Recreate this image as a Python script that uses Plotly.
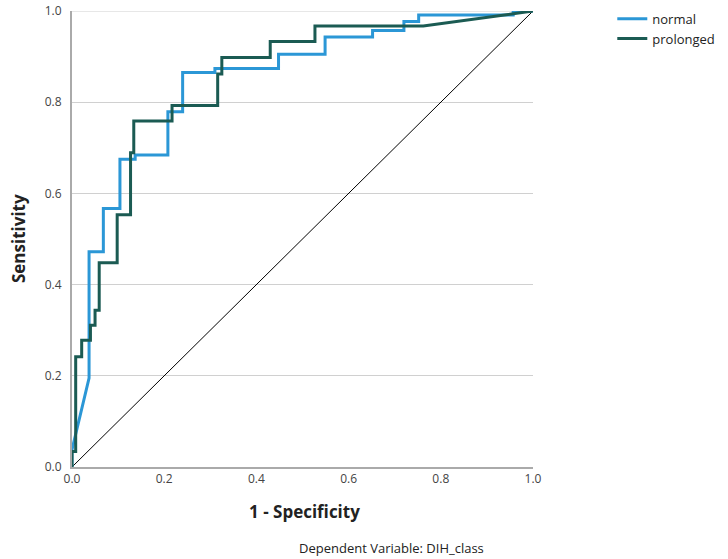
import plotly.graph_objects as go

# ROC curve points (1 - Specificity, Sensitivity)
normal_fpr = [0, 0, 0.037, 0.037, 0.068, 0.068, 0.104, 0.104, 0.137, 0.137, 0.208, 0.208,
              0.240, 0.240, 0.310, 0.310, 0.448, 0.448, 0.549, 0.549, 0.652, 0.652,
              0.720, 0.720, 0.752, 0.752, 0.957, 0.957, 1.0]
normal_tpr = [0, 0.038, 0.195, 0.472, 0.472, 0.567, 0.567, 0.675, 0.675, 0.684, 0.684, 0.779,
              0.779, 0.865, 0.865, 0.874, 0.874, 0.905, 0.905, 0.943, 0.943, 0.957,
              0.957, 0.977, 0.977, 0.991, 0.991, 1.0, 1.0]

prolonged_fpr = [0, 0, 0.008, 0.008, 0.021, 0.021, 0.040, 0.040, 0.050, 0.050, 0.059, 0.059,
                 0.098, 0.098, 0.127, 0.127, 0.134, 0.134, 0.217, 0.217, 0.316, 0.316,
                 0.325, 0.325, 0.430, 0.430, 0.527, 0.527, 0.762, 1.0]
prolonged_tpr = [0, 0.034, 0.034, 0.242, 0.242, 0.278, 0.278, 0.311, 0.311, 0.344, 0.344, 0.448,
                 0.448, 0.553, 0.553, 0.689, 0.689, 0.759, 0.759, 0.793, 0.793, 0.862,
                 0.862, 0.898, 0.898, 0.933, 0.933, 0.967, 0.967, 1.0]

ref_x = [0, 1]
ref_y = [0, 1]

tick_vals = [0.0, 0.2, 0.4, 0.6, 0.8, 1.0]
tick_text = ["0.0", "0.2", "0.4", "0.6", "0.8", "1.0"]

FONT = "Open Sans"

fig = go.Figure()
fig.add_trace(go.Scatter(x=ref_x, y=ref_y, mode="lines", showlegend=False,
                         line=dict(color="black", width=1), cliponaxis=False, hoverinfo="skip"))
fig.add_trace(go.Scatter(x=normal_fpr, y=normal_tpr, mode="lines", name="normal",
                         line=dict(color="#2b97d6", width=3), cliponaxis=False))
fig.add_trace(go.Scatter(x=prolonged_fpr, y=prolonged_tpr, mode="lines", name="prolonged",
                         line=dict(color="#1b5b53", width=3), cliponaxis=False))

fig.update_layout(
    width=728, height=559,
    margin=dict(l=72, r=195, t=11, b=92, autoexpand=False),
    plot_bgcolor="white", paper_bgcolor="white",
    font=dict(family=FONT, color="#333333"),
    legend=dict(x=1.172, y=1.016, xanchor="left", yanchor="top",
                font=dict(family=FONT, size=13, color="#222222"),
                tracegroupgap=0, itemwidth=30, bgcolor="rgba(0,0,0,0)"),
    xaxis=dict(range=[0, 1], tickvals=tick_vals, ticktext=tick_text, showgrid=False,
               zeroline=False, showline=True, linecolor="#aaaaaa", linewidth=2,
               ticks="", automargin=False, tickfont=dict(size=12, color="#444444")),
    yaxis=dict(range=[0, 1], tickvals=tick_vals, ticktext=tick_text, showgrid=True,
               gridcolor="#d0d0d0", gridwidth=1, zeroline=False, showline=True,
               linecolor="#aaaaaa", linewidth=2, ticks="", ticklabelstandoff=6,
               automargin=False, tickfont=dict(size=12, color="#444444")),
    shapes=[dict(type="line", xref="paper", yref="y", x0=0, x1=1, y0=1, y1=1,
                 line=dict(color="#d0d0d0", width=1), layer="below")],
    annotations=[
        dict(text="<b>Sensitivity</b>", xref="paper", yref="paper", x=-0.117, y=0.5,
             textangle=-90, xanchor="center", yanchor="middle", showarrow=False,
             font=dict(family=FONT, size=17, color="#222222")),
        dict(text="<b>1 - Specificity</b>", xref="paper", yref="paper", x=0.505, y=-0.0965,
             xanchor="center", yanchor="middle", showarrow=False,
             font=dict(family=FONT, size=17, color="#222222")),
        dict(text="Dependent Variable: DIH_class", xref="paper", yref="paper",
             x=0.694, y=-0.178, xanchor="center", yanchor="middle", showarrow=False,
             font=dict(family=FONT, size=13, color="#222222")),
    ],
)

fig.write_html("out.html", config={"displayModeBar": False},
               post_script="document.body.style.margin='0';document.body.style.padding='0';")
